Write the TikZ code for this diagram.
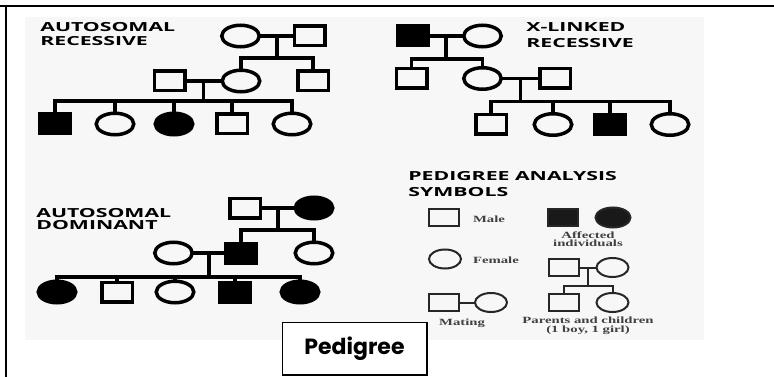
\documentclass[tikz,border=0pt]{standalone}
\usepackage{fontspec}
\usetikzlibrary{shapes.geometric}
\newfontfamily\headfont{Open Sans}
\newfontfamily\keyfont{Liberation Serif}
\newfontfamily\boxfont{Poppins}

\tikzset{
    male/.style={draw, rectangle, line width=3.5pt, minimum width=30.5pt, minimum height=19.5pt, inner sep=0pt},
    female/.style={draw, ellipse, line width=3.5pt, minimum width=37.5pt, minimum height=21.5pt, inner sep=0pt},
    amale/.style={male, fill=black},
    afemale/.style={female, fill=black},
    smale/.style={draw=black!85, rectangle, line width=2pt, minimum width=30pt, minimum height=16.5pt, inner sep=0pt},
    sfemale/.style={draw=black!85, ellipse, line width=2pt, minimum width=32pt, minimum height=19pt, inner sep=0pt},
    link/.style={line width=3.5pt, line cap=rect},
    slink/.style={line width=2pt, line cap=rect, draw=black!85},
    head/.style={font=\headfont\bfseries\fontsize{12.5}{14}\selectfont, align=left, anchor=north west, inner sep=0pt, xscale=1.7},
    key/.style={font=\keyfont\bfseries\fontsize{9.5}{8.5}\selectfont, text=black!75, align=center, inner sep=0pt, xscale=1.55},
}

\begin{document}
\begin{tikzpicture}[x=1pt,y=-1pt]
    \useasboundingbox (0,0) rectangle (774,377);
    \draw[line width=2pt] (0,6.5) -- (774,6.5);
    \draw[line width=2pt] (6,6.5) -- (6,377);
    \fill[black!3] (25,17) rectangle (704,340);

    % autosomal recessive
    \node[head] (ttl1) at (40,22.5) {AUTOSOMAL\\RECESSIVE};
    \node[female] (a1) at (240.5,36) {};
    \node[male] (a2) at (309.5,36) {};
    \node[male] (a3) at (169.5,81) {};
    \node[female] (a4) at (241,81) {};
    \node[male] (a5) at (313,81) {};
    \foreach[count=\i] \x/\s in {55/amale,115/female,174/afemale,232/male,292/female}{
        \node[\s] (ac\i) at (\x,124) {};
    }
    \draw[link] (a1) -- (a2) coordinate[midway] (au1);
    \path (au1) ++(0,22) coordinate (as1);
    \draw[link] (au1) -- (as1);
    \draw[link] (a4) |- (as1) -| (a5);
    \draw[link] (a3) -- (a4) coordinate[midway] (au2);
    \path (au2) ++(0,20) coordinate (as2);
    \draw[link] (au2) -- (as2);
    \draw[link] (ac1) |- (as2) -| (ac5);
    \foreach \i in {2,3,4}
        \draw[link] (ac\i) -- (ac\i |- as2);

    % x-linked recessive
    \node[head] (ttl2) at (526,22.5) {X-LINKED\\[2pt]RECESSIVE};
    \node[amale] (x1) at (413,36) {};
    \node[female] (x2) at (482.5,36) {};
    \node[male] (x3) at (411.5,78.5) {};
    \node[female] (x4) at (482.5,78.5) {};
    \node[male] (x5) at (555,78.5) {};
    \foreach[count=\i] \x/\s in {491/male,553/female,610/amale,670/female}{
        \node[\s] (xc\i) at (\x,124.5) {};
    }
    \draw[link] (x1) -- (x2) coordinate[midway] (xu1);
    \path (xu1) ++(0,23) coordinate (xs1);
    \draw[link] (xu1) -- (xs1);
    \draw[link] (x3) |- (xs1) -| (x4);
    \draw[link] (x4) -- (x5) coordinate[midway] (xu2);
    \path (xu2) ++(0,23) coordinate (xs2);
    \draw[link] (xu2) -- (xs2);
    \draw[link] (xc1) |- (xs2) -| (xc4);
    \foreach \i in {2,3}
        \draw[link] (xc\i) -- (xc\i |- xs2);

    % autosomal dominant
    \node[head] (ttl3) at (36,208.5) {AUTOSOMAL\\[-2.5pt]DOMINANT};
    \node[male] (d1) at (245,208) {};
    \node[afemale] (d2) at (314,208) {};
    \node[female] (d3) at (173.5,253) {};
    \node[amale] (d4) at (241,253) {};
    \node[female] (d5) at (314,253) {};
    \foreach[count=\i] \x/\s in {57/afemale,117/male,175/female,235/amale,300/afemale}{
        \node[\s] (dc\i) at (\x,292) {};
    }
    \draw[link] (d1) -- (d2) coordinate[midway] (du1);
    \path (du1) ++(0,22) coordinate (ds1);
    \draw[link] (du1) -- (ds1);
    \draw[link] (d4) |- (ds1) -| (d5);
    \draw[link] (d3) -- (d4) coordinate[midway] (du2);
    \path (du2) ++(0,24) coordinate (ds2);
    \draw[link] (du2) -- (ds2);
    \draw[link] (dc1) |- (ds2) -| (dc5);
    \foreach \i in {2,3,4}
        \draw[link] (dc\i) -- (dc\i |- ds2);

    % symbols
    \node[head] (ttl4) at (408,171.5) {PEDIGREE ANALYSIS\\[1.5pt]SYMBOLS};
    \node[smale] (k1) at (444,217.5) {};
    \node[key, anchor=west] (k1t) at (472.7,219) {Male};
    \node[smale, fill=black!90] (k2) at (563,217.5) {};
    \node[sfemale, fill=black!90, minimum width=35pt, minimum height=20pt] (k3) at (613,217.5) {};
    \node[key] (k3t) at (588,239) {Affected\\individuals};
    \node[sfemale] (k4) at (445,259) {};
    \node[key, anchor=west] (k4t) at (472.7,260) {Female};
    \node[smale] (k5) at (444,302.5) {};
    \node[sfemale] (k6) at (491,302.5) {};
    \draw[slink] (k5) -- (k6);
    \node[key] (k6t) at (462,323) {Mating};
    \node[smale] (p1) at (564,267.5) {};
    \node[sfemale] (p2) at (612.5,267.5) {};
    \node[smale] (p3) at (564,302.5) {};
    \node[sfemale] (p4) at (612.5,302.5) {};
    \draw[slink] (p1) -- (p2) coordinate[midway] (pu);
    \path (pu) ++(0,18.5) coordinate (ps);
    \draw[slink] (pu) -- (ps);
    \draw[slink] (p3) |- (ps) -| (p4);
    \node[key] (p4t) at (588,326) {Parents and children\\(1 boy, 1 girl)};

    \node[draw, line width=1.5pt, fill=white, minimum width=144.5pt, minimum height=52.5pt, font=\boxfont\bfseries\fontsize{22}{26}\selectfont] (pbox) at (354.5,348.5) {Pedigree};
\end{tikzpicture}
\end{document}
